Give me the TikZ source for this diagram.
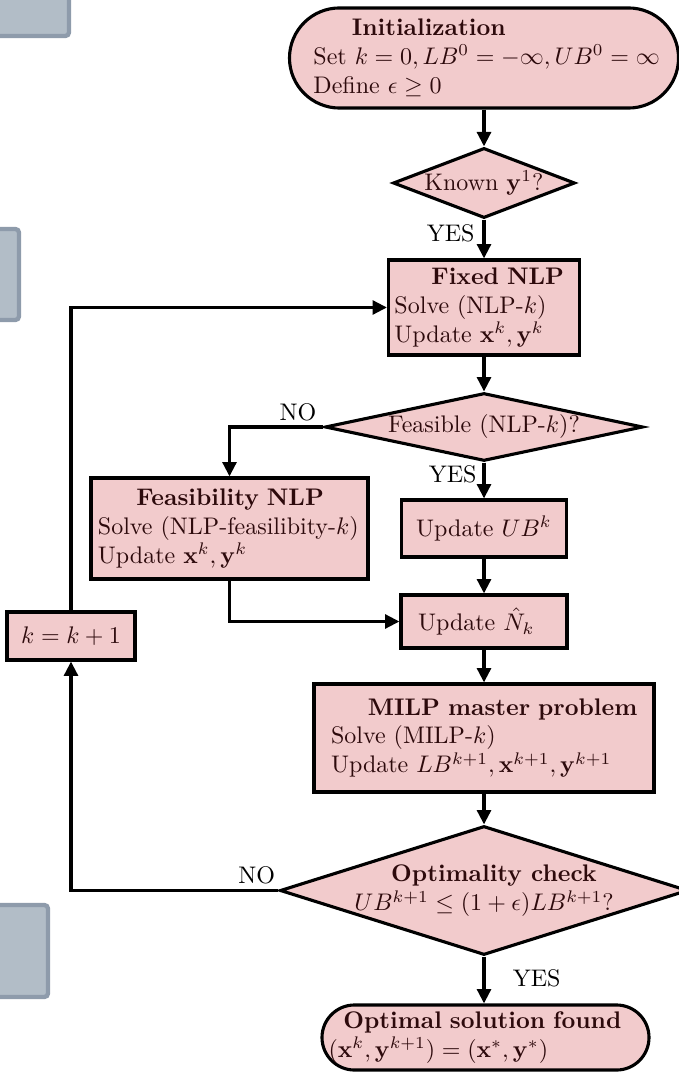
\documentclass[tikz,border=0pt]{standalone}
\usetikzlibrary{shapes.geometric,shapes.misc,arrows.meta,shadows}
\definecolor{boxfill}{RGB}{242,203,204}
\definecolor{boxtext}{RGB}{45,10,12}
\definecolor{grayfill}{RGB}{178,189,199}
\definecolor{grayline}{RGB}{142,155,171}
\begin{document}
\begin{tikzpicture}[x=0.41667pt,y=-0.41667pt,
  base/.style={draw=black, line width=1.3pt, fill=boxfill, text=boxtext, inner sep=0pt},
  procbox/.style={base, rectangle},
  termbox/.style={base, rounded rectangle},
  decbox/.style={base, diamond},
  shadowbox/.style={procbox, drop shadow={shadow xshift=0.8pt, shadow yshift=-0.6pt, fill=boxtext, opacity=1}},
  flow/.style={line width=1.3pt, -{Triangle[length=6pt,width=5.8pt]}},
  lbl/.style={text=black},
  ghost/.style={fill=grayfill, draw=grayline, line width=1.8pt, rounded corners=1.5pt}
]
\useasboundingbox (0,0) rectangle (679,1074);
% partial grey boxes at the left edge
\path[ghost] (-20,-20) rectangle (69,36);
\path[ghost] (-20,229) rectangle (19,320);
\path[ghost] (-20,905) rectangle (48,997);

% nodes
\node[termbox, minimum width=162.1pt, minimum height=41.7pt, text width=142.1pt, align=left] (init) at (484,58)
  {\mbox{\hspace*{16pt}\textbf{Initialization}}\\\mbox{Set $k=0, LB^0=-\infty, UB^0=\infty$}\\\mbox{Define $\epsilon\geq 0$}};
\node[decbox, minimum width=75.8pt, minimum height=29.2pt] (known) at (484,183)
  {\makebox[0pt]{Known $\mathbf{y}^1$?}};
\node[procbox, minimum width=79.6pt, minimum height=39.6pt, text width=74.6pt, align=left] (fixed) at (484,307.5)
  {\mbox{\hspace*{15.4pt}\textbf{Fixed NLP}}\\\mbox{Solve (NLP-$k$)}\\\mbox{Update $\mathbf{x}^k, \mathbf{y}^k$}};
\node[decbox, minimum width=132.5pt, minimum height=28.3pt] (feas) at (484,427)
  {\makebox[0pt]{Feasible (NLP-$k$)?}};
\node[procbox, minimum width=115.4pt, minimum height=42.1pt, text width=109.6pt, align=left] (fnlp) at (229.5,528.5)
  {\mbox{\hspace*{16pt}\textbf{Feasibility NLP}}\\\mbox{Solve (NLP-feasilibity-$k$)}\\\mbox{Update $\mathbf{x}^k, \mathbf{y}^k$}};
\node[procbox, minimum width=68.75pt, minimum height=23.75pt] (ub) at (484,528.5)
  {Update $UB^k$};
\node[shadowbox, minimum width=69.2pt, minimum height=22.1pt, text width=55pt, align=left] (nk) at (484,621.5)
  {\mbox{Update $\hat{N}_k$}};
\node[shadowbox, minimum width=141.7pt, minimum height=45pt, text width=127.5pt, align=left] (milp) at (484,738)
  {\mbox{\hspace*{15.4pt}\textbf{MILP master problem}}\\\mbox{Solve (MILP-$k$)}\\\mbox{Update $LB^{k+1}, \mathbf{x}^{k+1}, \mathbf{y}^{k+1}$}};
\node[decbox, minimum width=170pt, minimum height=53.75pt] (opt) at (484,890.5)
  {\makebox[0pt]{\begin{tabular}{@{}l@{}}\hspace*{15.4pt}\textbf{Optimality check}\\$UB^{k+1}\leq(1+\epsilon)LB^{k+1}$?\end{tabular}}};
\node[termbox, minimum width=136.25pt, minimum height=27.1pt, text width=100pt, align=left] (final) at (485.5,1037.5)
  {\mbox{\hspace*{-9.2pt}\textbf{Optimal solution found}}\\\mbox{\hspace*{-15.4pt}$(\mathbf{x}^k, \mathbf{y}^{k+1})=(\mathbf{x}^*, \mathbf{y}^*)$}};
\node[procbox, minimum width=53.3pt, minimum height=20pt] (kinc) at (71,636)
  {$k=k+1$};

% connectors
\draw[flow] (init.south) -- (known.north);
\draw[flow] (known.south) -- node[lbl, pos=0.36, left] {YES} (fixed.north);
\draw[flow] (fixed.south) -- (feas.north);
\draw[flow] (feas.west) -- node[lbl, pos=0.27, above, inner sep=2pt] {NO} (feas.west -| fnlp.north) -- (fnlp.north);
\draw[flow] (feas.south) -- node[lbl, pos=0.33, left, inner sep=2.5pt] {YES} (ub.north);
\draw[flow] (ub.south) -- (nk.north);
\draw[flow] (fnlp.south) -- (fnlp.south |- nk.west) -- (nk.west);
\draw[flow] (nk.south) -- (milp.north);
\draw[flow] (milp.south) -- (opt.north);
\draw[flow] (opt.west) -- node[lbl, pos=0.105, above, inner sep=2pt] {NO} (kinc.south |- opt.west) -- (kinc.south);
\draw[flow] (kinc.north) -- (kinc.north |- fixed.west) -- (fixed.west);
\draw[flow] (opt.south) -- node[lbl, pos=0.46, right=8pt] {YES} (opt.south |- final.north);
\end{tikzpicture}
\end{document}
